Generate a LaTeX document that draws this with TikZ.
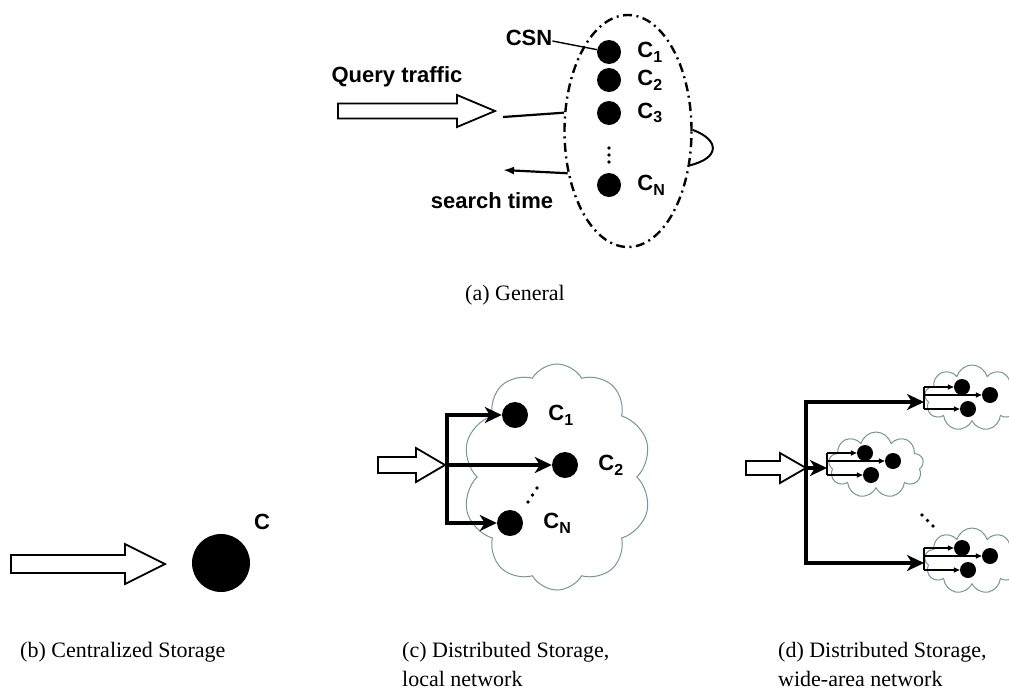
\documentclass[tikz,border=0pt]{standalone}
\usepackage{fontspec}
\setmainfont{Liberation Serif}
\newfontfamily\helv{Liberation Sans}
\usetikzlibrary{arrows.meta,shapes.geometric,shapes.symbols}
\definecolor{cloudline}{RGB}{112,150,158}
\tikzset{
  dot/.style={circle,fill=black,inner sep=0pt,minimum size=#1},
  dot/.default=24pt,
  lbl/.style={font=\helv\bfseries\fontsize{22}{24}\selectfont,inner sep=0pt},
  capt/.style={font=\fontsize{22}{29}\selectfont,align=left,inner sep=0pt},
  fat/.style={draw,line width=1.8pt,fill=white,line join=miter},
  bigarr/.style={line width=3.6pt,-{Stealth[length=17pt,width=16pt,inset=5pt]}},
  smallarr/.style={line width=1.8pt,-{Triangle[length=6pt,width=5pt]}},
  puff/.style={cloud,draw=cloudline,line width=1pt,cloud puffs=#1,inner sep=0pt}
}
\newcommand\clab[1]{C\raisebox{-.4ex}{\fontsize{16}{16}\selectfont #1}}
\newcommand\fatarrow[6]{\draw[fat] (#1,#4-#5) -- (#2,#4-#5) -- (#2,#4-#6) -- (#3,#4) -- (#2,#4+#6) -- (#2,#4+#5) -- (#1,#4+#5) -- cycle;}

\begin{document}
\begin{tikzpicture}[x=1pt,y=-1pt]
    \useasboundingbox (0,0) rectangle (1009,691);
    % (a)
    \node[ellipse,draw,line width=2.4pt,dash pattern=on 9pt off 4.5pt on 2pt off 4.5pt,
          minimum width=127pt,minimum height=232pt,inner sep=0pt] (grp) at (628,131) {};
    \node[dot] (a1) at (609,52) {};
    \node[dot] (a2) at (609,80) {};
    \node[dot] (a3) at (609,113) {};
    \node[dot] (aN) at (609,185) {};
    \foreach \n/\t in {a1/1,a2/2,a3/3,aN/N}
        \node[lbl,anchor=west] (l\n) at ([xshift=16pt]\n.east) {\clab{\t}};
    \foreach \y in {148,155,162} \fill (609,\y) circle (1.8);
    \node[lbl] (csn) at (529,38) {CSN};
    \draw[line width=1.4pt] ([yshift=-3pt]csn.east) -- (a1);
    \node[lbl] (qt) at (397,77) {Query traffic};
    \fatarrow{338}{457}{495}{111}{7.5}{16}
    \coordinate (qend) at (503,117);
    \draw[line width=2.2pt] (qend) -- (grp.164);
    \coordinate (send) at (503,170);
    \draw[line width=2.2pt,-{Latex[length=11pt,width=8pt]}] (grp.215) -- (send);
    \node[lbl] (st) at (492,201) {search time};
    \draw[line width=2pt] (grp.1) .. controls (720,140) and (720,158) .. (grp.-29);
    \node[capt] (capa) at (515,295) {(a) General};

    % (b)
    \fatarrow{11}{125}{165}{564}{9}{20}
    \node[dot=58pt] (cc) at (221,563) {};
    \node[lbl] (lc) at (262,522) {C};
    \node[capt,anchor=north west] (capb) at (20,642) {(b) Centralized Storage};

    % (c)
    \node[puff=10,cloud puff arc=120,aspect=0.84,minimum width=189pt,minimum height=226pt] (lan) at (557,477) {};
    \fatarrow{378}{416}{445}{465}{8}{17}
    \coordinate (cj) at (447,465);
    \node[dot=26pt] (c1) at (515,415) {};
    \node[dot=26pt] (c2) at (565,465) {};
    \node[dot=26pt] (cN) at (510,523) {};
    \draw[bigarr] (cj) |- (c1);
    \draw[bigarr] (cj) -- (c2);
    \draw[bigarr] (cj) |- (cN);
    \foreach \n/\t in {c1/1,c2/2,cN/N}
        \node[lbl,anchor=west] (l\n) at ([xshift=20pt]\n.east) {\clab{\t}};
    \foreach \p in {(528,502),(532.5,495),(537,488)} \fill \p circle (1.8);
    \node[capt,anchor=north west] (capc) at (402,642) {(c) Distributed Storage,\\local network};

    % (d)
    \node[puff=9,aspect=1.4,minimum width=95pt,minimum height=66pt] (w1) at (972,398) {};
    \node[puff=9,aspect=1.4,minimum width=95pt,minimum height=66pt] (w2) at (876,465) {};
    \node[puff=9,aspect=1.4,minimum width=95pt,minimum height=66pt] (w3) at (972,561) {};
    \fatarrow{746}{780}{806}{468}{7}{15}
    \coordinate (dj) at (806,468);
    \coordinate (t1) at (924,402);
    \coordinate (t2) at (827,468);
    \coordinate (t3) at (924,563);
    \draw[bigarr] (dj) |- (t1);
    \draw[bigarr] (dj) -- (t2);
    \draw[bigarr] (dj) |- (t3);
    \foreach \t in {1,2,3} {
        \node[dot=16pt] (d\t-a) at ([shift={(38,-15)}]t\t) {};
        \node[dot=16pt] (d\t-b) at ([shift={(66,-7)}]t\t) {};
        \node[dot=16pt] (d\t-c) at ([shift={(44,7)}]t\t) {};
        \draw[line width=1.8pt] ([yshift=15pt]t\t) -- ([yshift=-7pt]t\t);
        \draw[smallarr] ([yshift=15pt]t\t) -- (d\t-a);
        \draw[smallarr] ([yshift=7pt]t\t) -- (d\t-b);
        \draw[smallarr] ([yshift=-7pt]t\t) -- (d\t-c);
    }
    \foreach \p in {(922,515),(927.5,520.5),(933,526)} \fill \p circle (1.8);
    \node[capt,anchor=north west] (capd) at (778,642) {(d) Distributed Storage,\\wide-area network};
\end{tikzpicture}
\end{document}
